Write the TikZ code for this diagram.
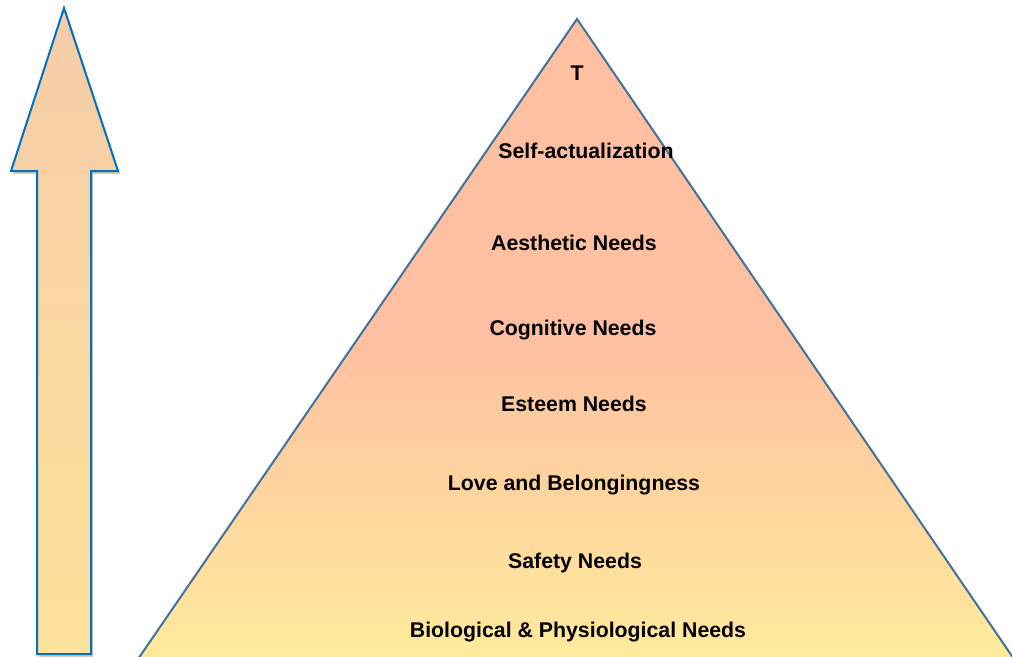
\documentclass[tikz,border=0pt]{standalone}
\usepackage{fontspec}
\setmainfont{Liberation Sans}
\definecolor{arrowline}{RGB}{0,112,192}
\definecolor{pyrline}{RGB}{65,113,156}
\definecolor{salmon}{RGB}{254,192,160}
\definecolor{peach}{RGB}{246,204,168}
\definecolor{butter}{RGB}{255,235,156}
\definecolor{wheat}{RGB}{252,226,154}
\definecolor{shadowtan}{RGB}{190,170,120}
\pgfdeclareverticalshading{pyrshade}{100bp}{color(0bp)=(butter); color(25bp)=(butter); color(50bp)=(salmon); color(100bp)=(salmon)}
\begin{document}
\begin{tikzpicture}[x=1pt, y=-1pt,
need/.style={anchor=base, inner sep=0pt, font=\fontsize{21.3}{25}\selectfont\bfseries},
outline/.style={line width=2pt, line join=miter}]
\useasboundingbox (0,0) rectangle (1012,656);
% arrow, with its shadow
\fill[shadowtan, opacity=0.6] (66,11) -- (120,174) -- (93,174) -- (93,657) -- (39,657) -- (39,174) -- (13,174) -- cycle;
\shade[top color=peach, bottom color=wheat, draw=arrowline, outline]
    (64,8) -- (118,171) -- (91,171) -- (91,654) -- (37,654) -- (37,171) -- (11,171) -- cycle;
% pyramid
\shade[shading=pyrshade, draw=pyrline, outline]
    (577,19) -- (1016,662) -- (136,662) -- cycle;
\node[need] (t) at (577,80) {T};
\node[need] (self) at (586,158) {Self-actualization};
\node[need] (aesthetic) at (574,250) {Aesthetic Needs};
\node[need] (cognitive) at (573,335) {Cognitive Needs};
\node[need] (esteem) at (574,411) {Esteem Needs};
\node[need] (love) at (574,490) {Love and Belongingness};
\node[need] (safety) at (575,568) {Safety Needs};
\node[need] (bio) at (578,637) {Biological \& Physiological Needs};
\end{tikzpicture}
\end{document}
